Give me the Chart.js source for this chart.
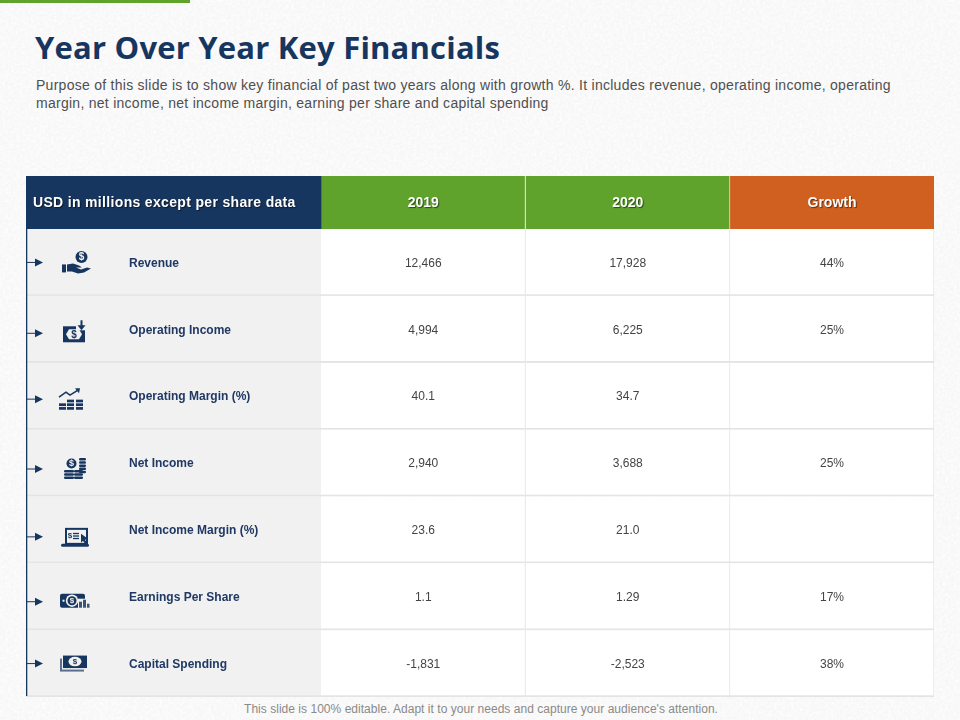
<!DOCTYPE html>
<html>
<head>
<meta charset="utf-8">
<script src="https://cdn.jsdelivr.net/npm/chart.js@4"></script>
<style>
  html, body { margin: 0; padding: 0; }
  body { width: 960px; height: 720px; position: relative; overflow: hidden; background-color: #f7f7f7; font-family: "Liberation Sans", Arial, sans-serif; }
  #paper { position: absolute; left: 0; top: 0; width: 960px; height: 720px; }
  canvas { position: absolute; left: 0; }
  #topbar { position: absolute; left: 0; top: 0; width: 190px; height: 3px; background: #5fa32d; }
  #title { position: absolute; left: 35px; top: 26px; font: bold 31px "Open Sans", sans-serif; color: #17365f; white-space: nowrap; letter-spacing: 0.2px; }
  #sub { position: absolute; left: 36px; top: 76px; width: 880px; font-size: 14px; line-height: 18px; color: #4f4f4f; white-space: nowrap; letter-spacing: 0.27px; }
  #foot { position: absolute; left: 0; width: 962px; top: 702px; text-align: center; font-size: 12px; color: #8a8a8a; letter-spacing: 0.03px; }
</style>
</head>
<body>
<svg id="paper" xmlns="http://www.w3.org/2000/svg">
  <filter id="grain"><feTurbulence type="fractalNoise" baseFrequency="0.35" numOctaves="3" seed="4"/><feColorMatrix values="0 0 0 0 1  0 0 0 0 1  0 0 0 0 1  1.6 0 0 0 -0.55"/></filter>
  <rect width="960" height="720" filter="url(#grain)"/>
</svg>
<div id="topbar"></div>
<div id="title">Year Over Year Key Financials</div>
<div id="sub">Purpose of this slide is to show key financial of past two years along with growth %. It includes revenue, operating income, operating<br>margin, net income, net income margin, earning per share and capital spending</div>
<canvas id="headChart" width="960" height="53" style="top:176px"></canvas>
<canvas id="bodyChart" width="960" height="468" style="top:229px"></canvas>
<div id="foot">This slide is 100% editable. Adapt it to your needs and capture your audience's attention.</div>
<script>
const headers = ["USD in millions except per share data", "2019", "2020", "Growth"];
const categories = ["Revenue", "Operating Income", "Operating Margin (%)", "Net Income", "Net Income Margin (%)", "Earnings Per Share", "Capital Spending"];
const values2019 = ["12,466", "4,994", "40.1", "2,940", "23.6", "1.1", "-1,831"];
const values2020 = ["17,928", "6,225", "34.7", "3,688", "21.0", "1.29", "-2,523"];
const growth = ["44%", "25%", "", "25%", "", "17%", "38%"];

// column widths in px, the table is 908 wide
const colWidths = [295, 204.5, 204.5, 204];
const navy = "#17365f";
const green = "#5fa32d";
const orange = "#d06020";
const lineGrey = "#e4e4e4";
const cellGrey = "#f1f1f1";

// icon + arrow nudges from the row centre, the slide does not line them up
const arrowNudge = [0, 4, 3, 6, 7, 5, 0];
const iconNudge = [0, 4, 3, 4, 7, 5, 0];
const iconX = [76, 74, 71, 75, 75, 74, 74];

function dollar(ctx, x, y, r, bg, fg) {
    ctx.fillStyle = bg;
    ctx.beginPath();
    ctx.arc(x, y, r, 0, Math.PI * 2);
    ctx.fill();
    ctx.fillStyle = fg;
    ctx.font = "bold " + Math.round(r * 1.7) + "px 'Liberation Sans'";
    ctx.textAlign = "center";
    ctx.textBaseline = "middle";
    ctx.fillText("$", x, y + 0.5);
    ctx.fillStyle = navy;
}

function poly(ctx, pts) {
    ctx.beginPath();
    pts.forEach(function (p, i) {
        if (i == 0) ctx.moveTo(p[0], p[1]);
        else ctx.lineTo(p[0], p[1]);
    });
    ctx.closePath();
    ctx.fill();
}

function coins(ctx, x, y, w, n) {
    for (var i = 0; i < n; i++) {
        ctx.beginPath();
        ctx.roundRect(x, y + i * 3.2, w, 2.5, 1.2);
        ctx.fill();
    }
}

// one small drawing per row, all relative to the icon centre
const icons = [
    function (ctx) {
        dollar(ctx, 5.5, -5.5, 6, navy, cellGrey);
        ctx.fillRect(-14, 2, 4, 8);
        poly(ctx, [[-9, 2], [-3, 1], [3, 3], [6, 5], [0, 5], [5, 7], [11, 5], [15, 6], [8, 10], [2, 11], [-4, 9], [-9, 9]]);
    },
    function (ctx) {
        ctx.fillRect(-11, -7, 22, 16);
        ctx.fillStyle = cellGrey;
        poly(ctx, [[-5, -4], [5, -4], [8, 1], [5, 6], [-5, 6], [-8, 1]]);
        ctx.fillRect(2, -9, 10, 6);
        ctx.fillStyle = navy;
        ctx.font = "bold 10px 'Liberation Sans'";
        ctx.textAlign = "center";
        ctx.textBaseline = "middle";
        ctx.fillText("$", 0, 1.5);
        ctx.fillRect(6.5, -13, 2, 6);
        poly(ctx, [[3.5, -8], [11.5, -8], [7.5, -3]]);
    },
    function (ctx) {
        [-12, -4, 5].forEach(function (x, c) {
            for (var i = c == 0 ? 1 : 0; i < 3; i++) ctx.fillRect(x, 0.5 + i * 3.7, 7, 2.7);
        });
        ctx.strokeStyle = navy;
        ctx.lineWidth = 1.6;
        ctx.beginPath();
        ctx.moveTo(-12, -2);
        ctx.lineTo(-5, -7);
        ctx.lineTo(-1, -4);
        ctx.lineTo(7, -9);
        ctx.stroke();
        poly(ctx, [[4, -11], [9, -11], [8, -6]]);
    },
    function (ctx) {
        coins(ctx, -11, 3, 10, 3);
        coins(ctx, -1, 3, 9, 3);
        coins(ctx, 4, -9, 7, 5);
        dollar(ctx, -3.5, -3.5, 5, navy, cellGrey);
    },
    function (ctx) {
        ctx.lineWidth = 2;
        ctx.strokeStyle = navy;
        ctx.strokeRect(-9, -8, 21, 15);
        ctx.beginPath();
        ctx.roundRect(-14, 7, 28, 3, 1.5);
        ctx.fill();
        ctx.font = "bold 8px 'Liberation Sans'";
        ctx.textAlign = "center";
        ctx.textBaseline = "middle";
        ctx.fillText("$", -5, -1);
        ctx.fillRect(-2, -4, 6, 1.3);
        ctx.fillRect(-2, -1.5, 6, 1.3);
        ctx.fillRect(-2, 1, 6, 1.3);
        poly(ctx, [[6, -3], [13, 2], [10, 3], [12, 6], [10, 7], [8, 4], [6, 6]]);
    },
    function (ctx) {
        ctx.beginPath();
        ctx.roundRect(-14, -8, 25, 14, 2);
        ctx.fill();
        ctx.fillStyle = cellGrey;
        ctx.beginPath();
        ctx.arc(-2, -1, 6.2, 0, Math.PI * 2);
        ctx.fill();
        ctx.fillRect(-11.5, -2, 2, 2);
        ctx.fillRect(4, -3, 11, 11);
        dollar(ctx, -2, -1, 4.5, navy, cellGrey);
        ctx.fillStyle = "#3a5578";
        ctx.fillRect(5, 0, 3, 6);
        ctx.fillRect(9, -2, 3, 8);
        ctx.fillRect(13, 2, 2.5, 4);
    },
    function (ctx) {
        ctx.fillStyle = "#5a7090";
        ctx.fillRect(-14, -5, 24, 13);
        ctx.fillStyle = cellGrey;
        ctx.fillRect(-12, -7, 24, 13);
        ctx.fillStyle = navy;
        ctx.fillRect(-11, -8, 24, 12.5);
        ctx.fillStyle = cellGrey;
        ctx.beginPath();
        ctx.ellipse(1, -2, 6.5, 4.8, 0, 0, Math.PI * 2);
        ctx.fill();
        ctx.fillStyle = navy;
        ctx.font = "bold 8px 'Liberation Sans'";
        ctx.textAlign = "center";
        ctx.textBaseline = "middle";
        ctx.fillText("$", 1, -1.5);
    }
];

// writes the text of each cell in the middle of its bar
const cellText = {
    id: "cellText",
    afterDatasetsDraw(chart) {
        const ctx = chart.ctx;
        chart.data.datasets.forEach(function (ds, d) {
            chart.getDatasetMeta(d).data.forEach(function (bar, i) {
                const c = bar.getCenterPoint();
                ctx.save();
                ctx.textBaseline = "middle";
                ctx.font = ds.textFont;
                ctx.fillStyle = ds.textColor;
                ctx.letterSpacing = ds.textSpacing || "0px";
                if (ds.textShadow) {
                    ctx.shadowColor = "rgba(0,0,0,0.55)";
                    ctx.shadowOffsetX = 1;
                    ctx.shadowOffsetY = 1;
                    ctx.shadowBlur = 1;
                }
                if (ds.textLeft != null) {
                    ctx.textAlign = "left";
                    ctx.fillText(ds.cellLabels[i], ds.textLeft, c.y + 1);
                } else {
                    ctx.textAlign = "center";
                    ctx.fillText(ds.cellLabels[i], c.x, c.y + 1);
                }
                ctx.restore();
            });
        });
    }
};

// navy rail on the left with the arrows and icons of the rows
const rowMarks = {
    id: "rowMarks",
    afterDatasetsDraw(chart) {
        const ctx = chart.ctx;
        const area = chart.chartArea;
        ctx.save();
        ctx.fillStyle = navy;
        ctx.fillRect(area.left, area.top, 1.3, area.bottom - area.top - 1);
        categories.forEach(function (name, i) {
            const y = chart.scales.y.getPixelForValue(i);
            const ay = y + arrowNudge[i];
            ctx.fillStyle = navy;
            ctx.fillRect(area.left, ay - 0.5, 11, 1);
            poly(ctx, [[area.left + 9, ay - 4], [area.left + 17, ay], [area.left + 9, ay + 4]]);
            ctx.save();
            ctx.translate(iconX[i], y + iconNudge[i]);
            icons[i](ctx);
            ctx.restore();
        });
        ctx.restore();
    }
};

const baseOptions = {
    indexAxis: "y",
    responsive: false,
    animation: false,
    layout: { padding: { left: 26, right: 26, top: 0, bottom: 0 } },
    plugins: { legend: { display: false }, tooltip: { enabled: false } },
    scales: {
        x: { display: false, stacked: true, min: 0, max: colWidths.reduce(function (a, b) { return a + b; }, 0) },
        y: { display: false, stacked: true }
    }
};

function headSet(i, color) {
    return {
        data: [colWidths[i]],
        backgroundColor: color,
        borderColor: "#dfe6d8",
        borderWidth: { top: 0, left: 0, bottom: 0, right: (i == 1 || i == 2) ? 1 : 0 },
        borderSkipped: false,
        barPercentage: 1,
        categoryPercentage: 1,
        cellLabels: [headers[i]],
        textFont: "bold 14px 'Liberation Sans'",
        textColor: "#ffffff",
        textShadow: true,
        textSpacing: i == 0 ? "0.33px" : "0px",
        textLeft: i == 0 ? 33 : null
    };
}

new Chart(document.getElementById("headChart"), {
    type: "bar",
    data: {
        labels: ["header"],
        datasets: [headSet(0, navy), headSet(1, green), headSet(2, green), headSet(3, orange)]
    },
    options: baseOptions,
    plugins: [cellText]
});

function bodySet(i, labels, color, font, textColor, left) {
    return {
        data: categories.map(function () { return colWidths[i]; }),
        backgroundColor: color,
        borderColor: lineGrey,
        borderWidth: { top: 0, left: 0, bottom: 2, right: i == 0 ? 0 : 1 },
        borderSkipped: false,
        barPercentage: 1,
        categoryPercentage: 1,
        cellLabels: labels,
        textFont: font,
        textColor: textColor,
        textLeft: left
    };
}

const numFont = "12px 'Liberation Sans'";

new Chart(document.getElementById("bodyChart"), {
    type: "bar",
    data: {
        labels: categories,
        datasets: [
            bodySet(0, categories, cellGrey, "bold 12px 'Liberation Sans'", "#1f3864", 129),
            bodySet(1, values2019, "#ffffff", numFont, "#444444", null),
            bodySet(2, values2020, "#ffffff", numFont, "#444444", null),
            bodySet(3, growth, "#ffffff", numFont, "#444444", null)
        ]
    },
    options: baseOptions,
    plugins: [cellText, rowMarks]
});
</script>
</body>
</html>
